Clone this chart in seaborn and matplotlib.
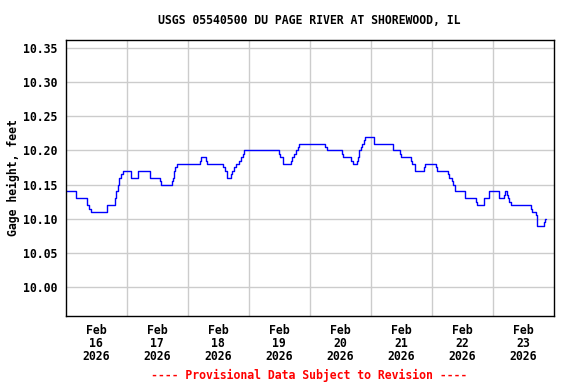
import pandas as pd
import matplotlib.pyplot as plt
import seaborn as sns

# =========================
# DATA
# =========================
# hours since Feb 16 2026 00:00 where the gage reading changes
hours = [0.0, 4.25, 8.46, 9.25, 10.16, 16.3, 19.6, 20.0, 20.5, 21.0, 21.8, 22.6,
         25.9, 28.6, 33.4, 37.0, 37.5, 41.8, 42.2, 42.7, 43.2, 43.7, 52.9, 53.3,
         55.3, 55.8, 62.1, 62.6, 63.7, 65.2, 65.7, 66.3, 66.9, 68.4, 69.0, 69.7,
         70.3, 83.9, 84.3, 85.7, 88.8, 89.3, 89.8, 90.5, 91.3, 92.0, 102.2, 102.7,
         108.8, 109.3, 112.4, 113.0, 114.6, 115.0, 115.5, 116.3, 116.8, 117.3, 117.7,
         121.2, 128.7, 129.0, 131.7, 132.1, 135.9, 136.3, 137.6, 140.9, 141.3, 145.8,
         146.0, 150.5, 150.9, 151.9, 152.3, 153.2, 157.2, 161.6, 162.0, 164.5, 166.5,
         170.7, 172.4, 172.8, 173.9, 174.2, 174.6, 175.4, 183.2, 183.7, 185.0, 185.4,
         185.6, 188.2, 188.7, 189.1]
gage = [10.14, 10.13, 10.12, 10.115, 10.11, 10.12, 10.13, 10.14, 10.15, 10.16, 10.165, 10.17,
        10.16, 10.17, 10.16, 10.155, 10.15, 10.155, 10.16, 10.17, 10.175, 10.18, 10.185, 10.19,
        10.185, 10.18, 10.175, 10.17, 10.16, 10.165, 10.17, 10.175, 10.18, 10.185, 10.19, 10.195,
        10.20, 10.195, 10.19, 10.18, 10.185, 10.19, 10.195, 10.20, 10.205, 10.21, 10.205, 10.20,
        10.195, 10.19, 10.185, 10.18, 10.185, 10.19, 10.20, 10.205, 10.21, 10.215, 10.22,
        10.21, 10.205, 10.20, 10.195, 10.19, 10.185, 10.18, 10.17, 10.175, 10.18, 10.175,
        10.17, 10.165, 10.16, 10.155, 10.15, 10.14, 10.13, 10.125, 10.12, 10.13, 10.14,
        10.13, 10.135, 10.14, 10.135, 10.13, 10.125, 10.12, 10.115, 10.11, 10.105, 10.10,
        10.09, 10.095, 10.10, 10.10]

y_ticks = [10.00, 10.05, 10.10, 10.15, 10.20, 10.25, 10.30, 10.35]
day_labels = ["Feb\n16\n2026", "Feb\n17\n2026", "Feb\n18\n2026", "Feb\n19\n2026",
              "Feb\n20\n2026", "Feb\n21\n2026", "Feb\n22\n2026", "Feb\n23\n2026"]

start = pd.Timestamp("2026-02-16")
df = pd.DataFrame({"time": start + pd.to_timedelta(hours, unit="h"), "gage": gage})

# =========================
# PLOT
# =========================
sns.set_style("white")
plt.rcParams["font.family"] = ["DejaVu Sans Mono"]
plt.rcParams["font.weight"] = "bold"
plt.rcParams["text.color"] = "black"
plt.rcParams["axes.labelcolor"] = "black"
plt.rcParams["xtick.color"] = "black"
plt.rcParams["ytick.color"] = "black"

fig = plt.figure(figsize=(5.76, 3.84), dpi=100)
ax = fig.add_axes([65.5 / 576, 1 - 316 / 384, 488 / 576, 276.5 / 384])

sns.lineplot(data=df, x="time", y="gage", ax=ax, color="#0000ff", linewidth=1,
             drawstyle="steps-post", estimator=None)

ax.set_xlim(start, start + pd.Timedelta(days=8))
ax.set_ylim(9.958, 10.362)

# gridlines at midnight, labels at noon
midnights = [start + pd.Timedelta(days=i) for i in range(1, 8)]
noons = [start + pd.Timedelta(days=i, hours=12) for i in range(8)]
ax.set_xticks(midnights)
ax.set_xticklabels([])
ax.set_xticks(noons, minor=True)
ax.set_xticklabels(day_labels, minor=True, fontsize=8.3, fontweight="bold",
                   linespacing=1.0)
ax.tick_params(axis="x", which="both", length=0, pad=6)

ax.set_yticks(y_ticks)
ax.set_yticklabels([f"{v:.2f}" for v in y_ticks], fontsize=8.3, fontweight="bold")
ax.tick_params(axis="y", length=0, pad=6)

ax.grid(True, which="major", color="#cccccc", linewidth=1)
ax.set_axisbelow(True)
for s in ax.spines.values():
    s.set_color("black")
    s.set_linewidth(1)

ax.set_xlabel("")
ax.set_ylabel("Gage height, feet", fontsize=8.3, fontweight="bold", labelpad=2)
ax.set_title("USGS 05540500 DU PAGE RIVER AT SHOREWOOD, IL", fontsize=8.3,
             fontweight="bold", pad=11)

fig.text(309.5 / 576, 1 - 375 / 384, "---- Provisional Data Subject to Revision ----",
         color="red", fontsize=8.3, fontweight="bold", ha="center", va="center")

fig.savefig("out.png", dpi=100)
plt.close()
